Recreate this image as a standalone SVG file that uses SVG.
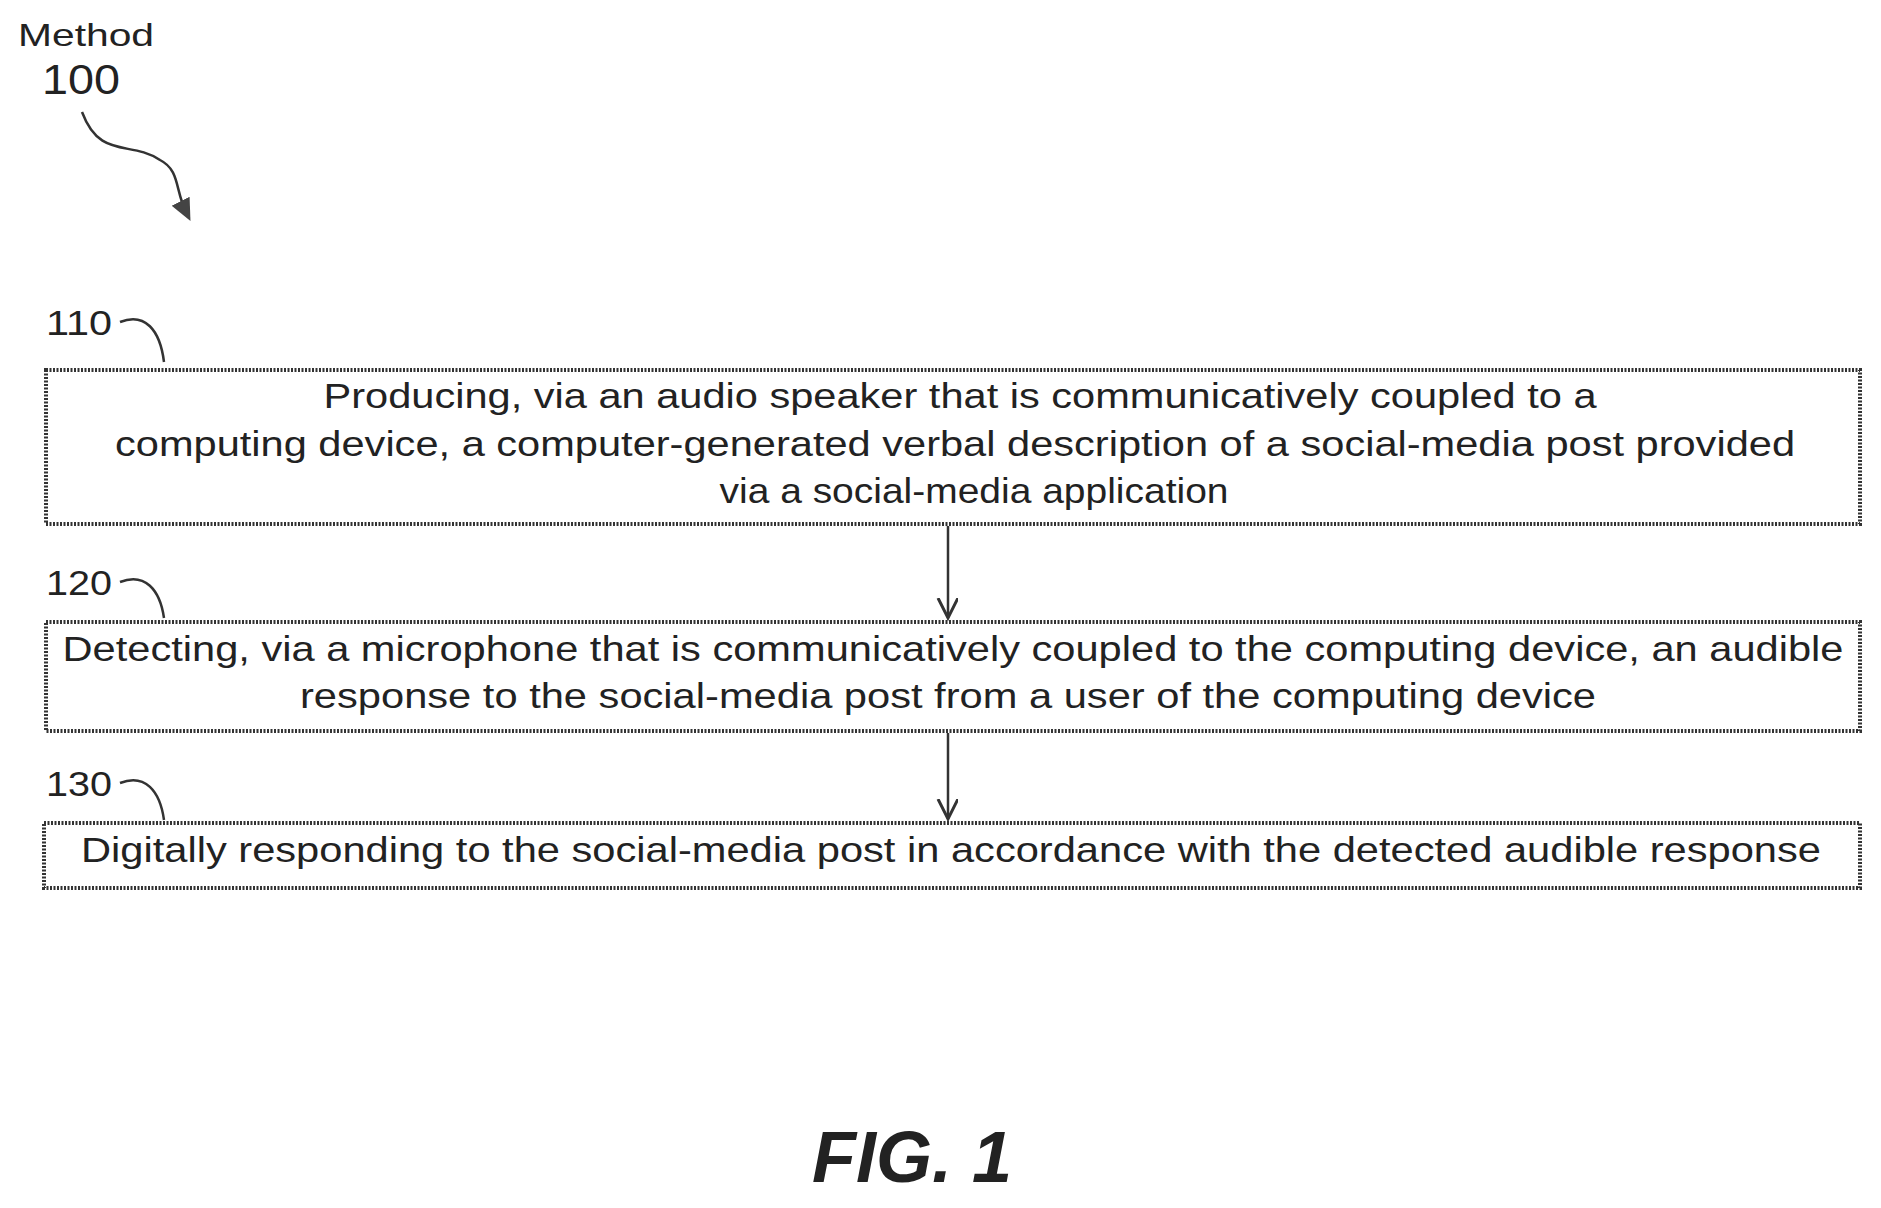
<svg xmlns="http://www.w3.org/2000/svg" width="1881" height="1208" viewBox="0 0 1881 1208">
<style>
text{font-family:"Liberation Sans",Arial,sans-serif;fill:#222}
.t{font-size:35px;text-anchor:middle}
.l{font-size:35px}
.b{fill:#fff;stroke:#333;stroke-width:4;stroke-dasharray:2 1.5}
.c{fill:none;stroke:#333;stroke-width:2.5}
</style>
<defs><marker id="a" markerWidth="24" markerHeight="24" refX="20" refY="10" orient="auto" markerUnits="userSpaceOnUse"><path d="M0,0 L20,10 L0,20" fill="none" stroke="#333" stroke-width="3"/></marker>
<marker id="f" markerWidth="24" markerHeight="24" refX="12" refY="12" orient="auto" markerUnits="userSpaceOnUse"><path d="M0,2 L22,12 L0,22 Z" fill="#444"/></marker></defs>
<g id="title"><text x="18" y="46" style="font-size:32px" textLength="136" lengthAdjust="spacingAndGlyphs">Method</text><text x="42" y="94" style="font-size:42px" textLength="78" lengthAdjust="spacingAndGlyphs">100</text></g>
<g id="connectors">
<path class="c" d="M82,112 C100,160 130,140 160,160 C180,170 175,190 186,212" marker-end="url(#f)"/>
<path class="c" d="M120,322 C145,312 160,330 164,362"/>
<path class="c" d="M120,582 C145,572 160,590 164,618"/>
<path class="c" d="M120,783 C145,773 160,791 164,820"/>
<line class="c" x1="948" y1="526" x2="948" y2="618" marker-end="url(#a)"/>
<line class="c" x1="948" y1="733" x2="948" y2="819" marker-end="url(#a)"/>
</g>
<g id="n110"><text class="l" x="46" y="335" textLength="66" lengthAdjust="spacingAndGlyphs">110</text><rect class="b" x="46" y="370" width="1814" height="154"/>
<text class="t" x="960" y="408" textLength="1273" lengthAdjust="spacingAndGlyphs">Producing, via an audio speaker that is communicatively coupled to a</text>
<text class="t" x="955" y="456" textLength="1680" lengthAdjust="spacingAndGlyphs">computing device, a computer-generated verbal description of a social-media post provided</text>
<text class="t" x="974" y="503" textLength="509" lengthAdjust="spacingAndGlyphs">via a social-media application</text></g>
<g id="n120"><text class="l" x="46" y="595" textLength="66" lengthAdjust="spacingAndGlyphs">120</text><rect class="b" x="46" y="622" width="1814" height="109"/>
<text class="t" x="953" y="661" textLength="1781" lengthAdjust="spacingAndGlyphs">Detecting, via a microphone that is communicatively coupled to the computing device, an audible</text>
<text class="t" x="948" y="708" textLength="1296" lengthAdjust="spacingAndGlyphs">response to the social-media post from a user of the computing device</text></g>
<g id="n130"><text class="l" x="46" y="796" textLength="66" lengthAdjust="spacingAndGlyphs">130</text><rect class="b" x="44" y="823" width="1816" height="65"/>
<text class="t" x="951" y="862" textLength="1740" lengthAdjust="spacingAndGlyphs">Digitally responding to the social-media post in accordance with the detected audible response</text></g>
<text x="912" y="1182" style="font-size:72px;font-weight:bold;font-style:italic;text-anchor:middle">FIG. 1</text>
</svg>
